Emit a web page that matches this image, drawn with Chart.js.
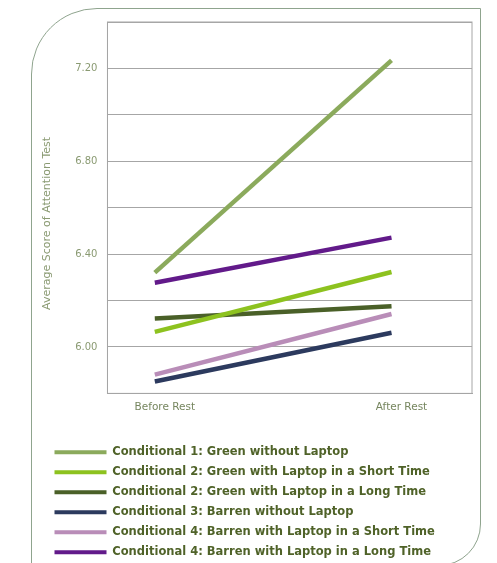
<!DOCTYPE html>
<html>
<head>
<meta charset="utf-8">
<script src="https://cdn.jsdelivr.net/npm/chart.js@4.4.1/dist/chart.umd.min.js"></script>
<style>
  body { margin: 0; background: #fff; overflow: hidden; }
  #frame {
    position: absolute; left: 31px; top: 8px; width: 450px; height: 558px;
    box-sizing: border-box; border: 1.5px solid #8fa48e;
    border-radius: 66px 0 42px 0;
  }
  #wrap { position: absolute; left: 0; top: 0; width: 497px; height: 568px; }
</style>
</head>
<body>
<div id="frame"></div>
<div id="wrap"><canvas id="attentionChart"></canvas></div>
<script>
// categories and series values
const categories = ['Before Rest', 'After Rest'];
const seriesNames = [
  'Conditional 1: Green without Laptop',
  'Conditional 2: Green with Laptop in a Short Time',
  'Conditional 2: Green with Laptop in a Long Time',
  'Conditional 3: Barren without Laptop',
  'Conditional 4: Barren with Laptop in a Short Time',
  'Conditional 4: Barren with Laptop in a Long Time'
];
const greenNoLaptop = [6.32, 7.235];
const greenShortLaptop = [6.065, 6.323];
const greenLongLaptop = [6.123, 6.175];
const barrenNoLaptop = [5.851, 6.061];
const barrenShortLaptop = [5.881, 6.142];
const barrenLongLaptop = [6.277, 6.471];
const yTickLabels = ['6.00', '6.40', '6.80', '7.20'];

const seriesValues = [greenNoLaptop, greenShortLaptop, greenLongLaptop,
                      barrenNoLaptop, barrenShortLaptop, barrenLongLaptop];
const colors = ['#8BAA5C', '#8DC21F', '#4A6028', '#2C3A5E', '#B98DB8', '#621A8A'];

// grey box round the plot area
const frameBox = {
  id: 'frameBox',
  beforeDatasetsDraw(chart) {
    const a = chart.chartArea, c = chart.ctx;
    c.save();
    c.strokeStyle = '#a6a6a6';
    c.lineWidth = 1;
    c.strokeRect(a.left, a.top, a.right - a.left, a.bottom - a.top);
    c.restore();
  }
};

const ctx = document.getElementById('attentionChart').getContext('2d');
const attentionChart = new Chart(ctx, {
  type: 'line',
  data: {
    datasets: seriesValues.map((vals, i) => ({
      label: seriesNames[i],
      data: vals.map((v, j) => ({ x: j, y: v })),
      borderColor: colors[i],
      backgroundColor: colors[i],
      borderWidth: 4.5,
      pointRadius: 0,
      tension: 0
    }))
  },
  options: {
    responsive: true,
    maintainAspectRatio: false,
    animation: false,
    layout: { padding: { left: 46, right: 25, top: 22, bottom: 0 } },
    scales: {
      x: {
        type: 'linear',
        min: -0.2,
        max: 1.34,
        afterBuildTicks: axis => { axis.ticks = categories.map((c, i) => ({ value: i })); },
        grid: { display: false, drawTicks: false },
        border: { color: '#a6a6a6' },
        ticks: {
          callback: v => categories[v],
          color: '#76865f',
          font: { family: 'DejaVu Sans', size: 10.5 },
          padding: 8,
          labelOffset: 10,
          maxRotation: 0
        }
      },
      y: {
        min: 5.8,
        max: 7.4,
        grid: { color: '#a6a6a6', drawTicks: false },
        border: { color: '#a6a6a6' },
        ticks: {
          stepSize: 0.2,
          padding: 10,
          color: '#8a9a72',
          font: { family: 'DejaVu Sans', size: 10 },
          callback: v => {
            const t = v.toFixed(2);
            return yTickLabels.includes(t) ? t : '';
          }
        },
        title: {
          display: true,
          text: 'Average Score of Attention Test         ',
          color: '#8a9a72',
          font: { family: 'DejaVu Sans', size: 11 },
          padding: { top: -5, bottom: 11 }
        }
      }
    },
    plugins: {
      legend: {
        position: 'bottom',
        align: 'start',
        title: { display: true, text: ' ', font: { size: 5 }, padding: { top: 10, bottom: 0 } },
        labels: {
          boxWidth: 52,
          boxHeight: 4,
          padding: 8.5,
          color: '#4F6228',
          font: { family: 'DejaVu Sans', size: 11.5, weight: 'bold' },
          generateLabels: chart => Chart.defaults.plugins.legend.labels.generateLabels(chart)
            .map(l => Object.assign(l, { lineWidth: 0, fillStyle: l.strokeStyle }))
        }
      },
      tooltip: { enabled: false }
    }
  },
  plugins: [frameBox]
});
</script>
</body>
</html>
